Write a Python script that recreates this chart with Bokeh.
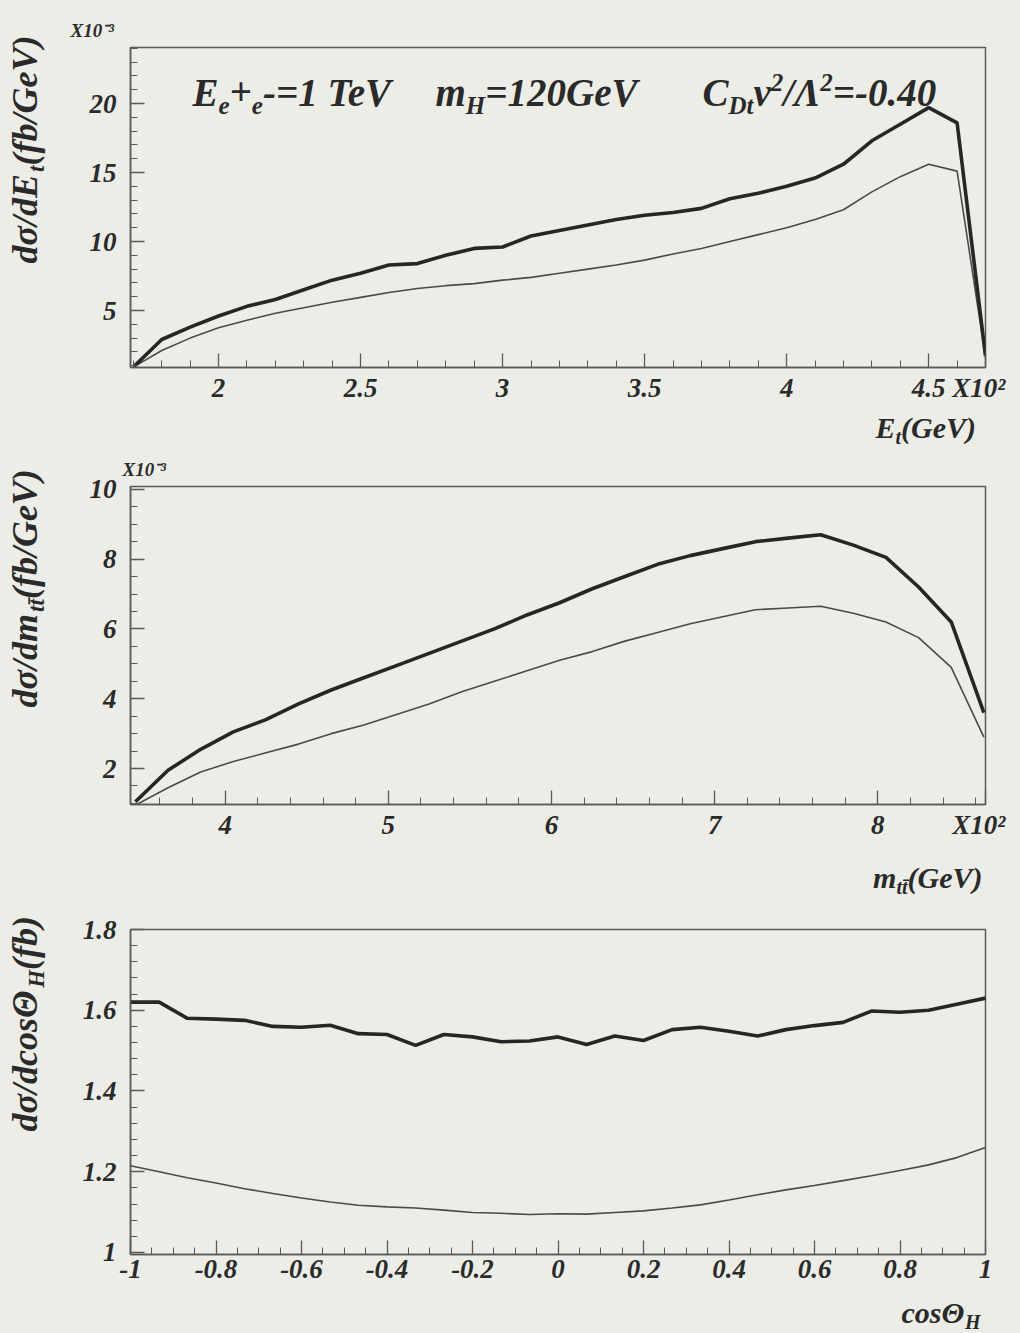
import numpy as np
from bokeh.plotting import figure
from bokeh.layouts import column, row
from bokeh.models import Label, FixedTicker, Range1d
from bokeh.embed import file_html
from bokeh.resources import INLINE

# ---------------- data ----------------
et_gev = [170, 180, 190, 200, 210, 220, 230, 240, 250, 260, 270, 280, 290, 300, 310,
          320, 330, 340, 350, 360, 370, 380, 390, 400, 410, 420, 430, 440, 450, 460, 470]
et_thick = [0.9, 2.9, 3.8, 4.6, 5.3, 5.8, 6.5, 7.2, 7.7, 8.3, 8.4, 9.0, 9.5, 9.6, 10.4,
            10.8, 11.2, 11.6, 11.9, 12.1, 12.4, 13.1, 13.5, 14.0, 14.6, 15.6, 17.3, 18.5, 19.7, 18.6, 1.7]
et_thin = [0.9, 2.1, 3.0, 3.75, 4.3, 4.8, 5.2, 5.6, 5.95, 6.3, 6.6, 6.8, 6.95, 7.2, 7.4,
           7.7, 8.0, 8.3, 8.65, 9.1, 9.5, 10.0, 10.5, 11.0, 11.6, 12.3, 13.6, 14.7, 15.6, 15.1, 1.6]
et_xticks = [200, 250, 300, 350, 400, 450, 470]
et_xtick_labels = ["2", "2.5", "3", "3.5", "4", "4.5", "X10\u00b2\u00a0\u00a0"]
et_yticks = [5, 10, 15, 20]
et_ytick_labels = ["5", "10", "15", "20"]

mtt_gev = [345, 365, 385, 405, 425, 445, 465, 485, 505, 525, 545, 565, 585, 605,
           625, 645, 665, 685, 705, 725, 745, 765, 785, 805, 825, 845, 865]
mtt_thick = [1.05, 1.95, 2.55, 3.05, 3.4, 3.85, 4.25, 4.6, 4.95, 5.3, 5.65, 6.0, 6.4, 6.75,
             7.15, 7.5, 7.85, 8.1, 8.3, 8.5, 8.6, 8.7, 8.4, 8.05, 7.2, 6.2, 3.6]
mtt_thin = [0.95, 1.45, 1.9, 2.2, 2.45, 2.7, 3.0, 3.25, 3.55, 3.85, 4.2, 4.5, 4.8, 5.1,
            5.35, 5.65, 5.9, 6.15, 6.35, 6.55, 6.6, 6.65, 6.45, 6.2, 5.75, 4.9, 2.9]
mtt_xticks = [400, 500, 600, 700, 800, 866]
mtt_xtick_labels = ["4", "5", "6", "7", "8", "X10\u00b2\u00a0\u00a0"]
mtt_yticks = [2, 4, 6, 8, 10]
mtt_ytick_labels = ["2", "4", "6", "8", "10"]

cos_h = [-1.0, -0.933, -0.867, -0.8, -0.733, -0.667, -0.6, -0.533, -0.467, -0.4, -0.333,
         -0.267, -0.2, -0.133, -0.067, 0.0, 0.067, 0.133, 0.2, 0.267, 0.333, 0.4, 0.467,
         0.533, 0.6, 0.667, 0.733, 0.8, 0.867, 0.933, 1.0]
cos_thick = [1.62, 1.62, 1.58, 1.578, 1.575, 1.56, 1.558, 1.563, 1.542, 1.54, 1.513,
             1.54, 1.534, 1.522, 1.524, 1.534, 1.515, 1.536, 1.525, 1.552, 1.558, 1.548, 1.536,
             1.552, 1.562, 1.57, 1.598, 1.595, 1.6, 1.615, 1.63]
cos_thin = [1.215, 1.2, 1.185, 1.172, 1.158, 1.146, 1.135, 1.125, 1.117, 1.113, 1.11,
            1.105, 1.099, 1.097, 1.094, 1.096, 1.095, 1.099, 1.103, 1.11, 1.118, 1.13, 1.143,
            1.155, 1.166, 1.178, 1.19, 1.203, 1.217, 1.235, 1.26]
cos_xticks = [-1, -0.8, -0.6, -0.4, -0.2, 0, 0.2, 0.4, 0.6, 0.8, 1]
cos_xtick_labels = ["-1", "-0.8", "-0.6", "-0.4", "-0.2", "0", "0.2", "0.4", "0.6", "0.8", "1"]
cos_yticks = [1, 1.2, 1.4, 1.6, 1.8]
cos_ytick_labels = ["1", "1.2", "1.4", "1.6", "1.8"]

# ---------------- style ----------------
BG = "#edede7"
FR = "#5a5a5a"
TXT = "#2a2a2a"
FONT = "Liberation Serif"
FRAME_L, FRAME_W = 130, 855
LEFT_W = 66
RIGHT_B = 35
PAGE_W = 1020
BOT_B = 40
BASE_FIX = 0.34   # shift that puts the glyph baseline where it is wanted

WID = {' ': 250, '(': 333, ')': 333, '+': 570, '-': 333, '.': 250, '/': 278, '=': 570,
       'A': 667, 'C': 667, 'D': 722, 'E': 667, 'G': 722, 'H': 778, 'T': 611, 'V': 667,
       'X': 667, 'a': 500, 'b': 500, 'c': 444, 'd': 500, 'e': 444, 'f': 333, 'm': 778,
       'o': 500, 's': 389, 't': 278, 'v': 444, '\u03c3': 600, '\u039b': 667, '\u0398': 780,
       '\u0304': 0}


def twidth(s, size):
    return sum(WID.get(c, 500) for c in s) / 1000.0 * size


def mklabel(x, y, text, size, angle=0.0):
    return Label(x=x, y=y, text=text, angle=angle, text_font=FONT,
                 text_font_style="bold italic", text_font_size=f"{size}px",
                 text_color=TXT, text_align="left", text_baseline="alphabetic")


# ----- auxiliary text strips (frame fills the whole strip, units = page pixels) -----
def aux(w, h, ox, oy):
    f = figure(width=w, height=h, x_range=Range1d(0, w), y_range=Range1d(0, h),
               x_axis_type=None, y_axis_type=None, output_backend="svg",
               toolbar_location=None, min_border=0, background_fill_color=BG,
               border_fill_color=BG, outline_line_color=None)
    f.grid.visible = False
    f._conv = lambda px, py: (px - ox, h - (py - oy))
    return f


# ----- main panels -----
def make_panel(xr, yr, top, fh, bottom, page_top, xt, xl, xminor, yt, yl, yminor,
               exp_text=None, exp_offset=0, exp_standoff=12):
    p = figure(frame_width=FRAME_W, frame_height=fh,
               x_range=Range1d(*xr), y_range=Range1d(*yr),
               output_backend="svg", toolbar_location=None,
               min_border_left=FRAME_L - LEFT_W, min_border_right=RIGHT_B,
               min_border_top=top, min_border_bottom=bottom,
               background_fill_color=BG, border_fill_color=BG)
    p.grid.visible = False
    p.outline_line_color = FR
    p.outline_line_width = 1.5
    for ax, ticks, labels, minor in ((p.xaxis[0], xt, xl, xminor), (p.yaxis[0], yt, yl, yminor)):
        ax.ticker = FixedTicker(ticks=ticks, minor_ticks=minor)
        ax.major_label_overrides = {t: l for t, l in zip(ticks, labels)}
        ax.major_tick_in = 14
        ax.major_tick_out = 0
        ax.minor_tick_in = 7
        ax.minor_tick_out = 0
        ax.axis_line_color = FR
        ax.axis_line_width = 1.5
        ax.major_tick_line_color = FR
        ax.major_tick_line_width = 1.3
        ax.minor_tick_line_color = FR
        ax.minor_tick_line_width = 1.0
        ax.major_label_text_font = FONT
        ax.major_label_text_font_style = "bold italic"
        ax.major_label_text_font_size = "27px"
        ax.major_label_text_color = TXT
    p.xaxis.major_label_standoff = 5
    p.yaxis.major_label_standoff = 14
    if exp_text:
        p.title.text = exp_text
        p.title.align = "left"
        p.title.offset = exp_offset
        p.title.standoff = exp_standoff
        p.title.text_font = FONT
        p.title.text_font_style = "bold italic"
        p.title.text_font_size = "19px"
        p.title.text_color = TXT

    def conv(px, py):
        x = xr[0] + (px - FRAME_L) / FRAME_W * (xr[1] - xr[0])
        y = yr[1] - (py - page_top) / fh * (yr[1] - yr[0])
        return x, y
    p._conv = conv
    return p


def hrun(f, px, py, pieces, align="left"):
    total = sum(twidth(t, s) for t, s, _ in pieces)
    x = px - total if align == "right" else px
    for t, s, sh in pieces:
        lx, ly = f._conv(x, py - sh - BASE_FIX * s)
        f.add_layout(mklabel(lx, ly, t, s))
        x += twidth(t, s)


def vrun(f, px, py, pieces):
    y = py
    for t, s, sh in pieces:
        lx, ly = f._conv(px - sh - BASE_FIX * s, y)
        f.add_layout(mklabel(lx, ly, t, s, angle=np.pi / 2))
        y -= twidth(t, s)


EXP = "X10\u207b\u00b3"

# ================= panel 1: E_t =================
p1 = make_panel((169, 470), (0.87, 24.06), 47, 320, BOT_B, 47,
                et_xticks, et_xtick_labels, list(range(170, 471, 10)),
                et_yticks, et_ytick_labels, list(range(1, 25)),
                exp_text=EXP, exp_offset=70 - FRAME_L, exp_standoff=14)
h1 = 47 + 320 + BOT_B
left1 = aux(LEFT_W, h1, 0, 0)
bot1 = aux(PAGE_W, 450 - h1, 0, h1)

p1.line(et_gev, et_thin, line_color="#4a4a4a", line_width=1.6)
p1.line(et_gev, et_thick, line_color="#262626", line_width=3.6)

T, S = 39, 25
hrun(p1, 192, 105, [("E", T, 0), ("e", S, -8), ("+", T, 0), ("e", S, -8), ("-=1 TeV", T, 0)])
hrun(p1, 435, 105, [("m", T, 0), ("H", S, -8), ("=120GeV", T, 0)])
hrun(p1, 702, 105, [("C", T, 0), ("Dt", S, -8), ("v", T, 0), ("2", S, 15),
                    ("/\u039b", T, 0), ("2", S, 15), ("=-0.40", T, 0)])
vrun(left1, 37, 263, [("d\u03c3/dE", 36, 0), ("t", 23, -7), (" (fb/GeV)", 36, 0)])
hrun(bot1, 983, 437, [("E", 30, 0), ("t", 20, -6), (" (GeV)", 30, 0)], align="right")

# ================= panel 2: m_tt =================
p2 = make_panel((342, 866), (0.97, 10.08), 32, 318, BOT_B, 482,
                mtt_xticks, mtt_xtick_labels, list(range(360, 861, 20)),
                mtt_yticks, mtt_ytick_labels, [x / 2 for x in range(2, 21)],
                exp_text=EXP, exp_offset=122 - FRAME_L, exp_standoff=13)
h2 = 32 + 318 + BOT_B
left2 = aux(LEFT_W, h2, 0, 450)
bot2 = aux(PAGE_W, 905 - 450 - h2, 0, 450 + h2)

p2.line(mtt_gev, mtt_thin, line_color="#4a4a4a", line_width=1.6)
p2.line(mtt_gev, mtt_thick, line_color="#262626", line_width=3.6)
vrun(left2, 37, 707, [("d\u03c3/dm", 36, 0), ("tt\u0304", 23, -7), ("(fb/GeV)", 36, 0)])
hrun(bot2, 982, 883, [("m", 30, 0), ("tt\u0304", 20, -6), ("(GeV)", 30, 0)], align="right")

# ================= panel 3: cos theta =================
p3 = make_panel((-1, 1), (0.995, 1.8), 20, 325, BOT_B, 925,
                cos_xticks, cos_xtick_labels, [round(-1 + 0.05 * k, 3) for k in range(41)],
                cos_yticks, cos_ytick_labels, [round(1 + 0.04 * k, 3) for k in range(21)])
h3 = 20 + 325 + BOT_B
left3 = aux(LEFT_W, h3, 0, 905)
bot3 = aux(PAGE_W, 1331 - 905 - h3, 0, 905 + h3)

p3.line(cos_h, cos_thin, line_color="#4a4a4a", line_width=1.6)
p3.line(cos_h, cos_thick, line_color="#262626", line_width=3.6)
vrun(left3, 37, 1127, [("d\u03c3/dcos\u0398", 36, 0), ("H", 23, -7), (" (fb)", 36, 0)])
hrun(bot3, 980, 1318, [("cos\u0398", 30, 0), ("H", 20, -6)], align="right")

CSS = {"background-color": BG}
layout = column(
    row(left1, column(p1, spacing=0, styles=CSS), spacing=0, styles=CSS), bot1,
    row(left2, column(p2, spacing=0, styles=CSS), spacing=0, styles=CSS), bot2,
    row(left3, column(p3, spacing=0, styles=CSS), spacing=0, styles=CSS), bot3,
    spacing=0, styles=CSS)
open("out.html", "w").write(file_html(layout, INLINE))
